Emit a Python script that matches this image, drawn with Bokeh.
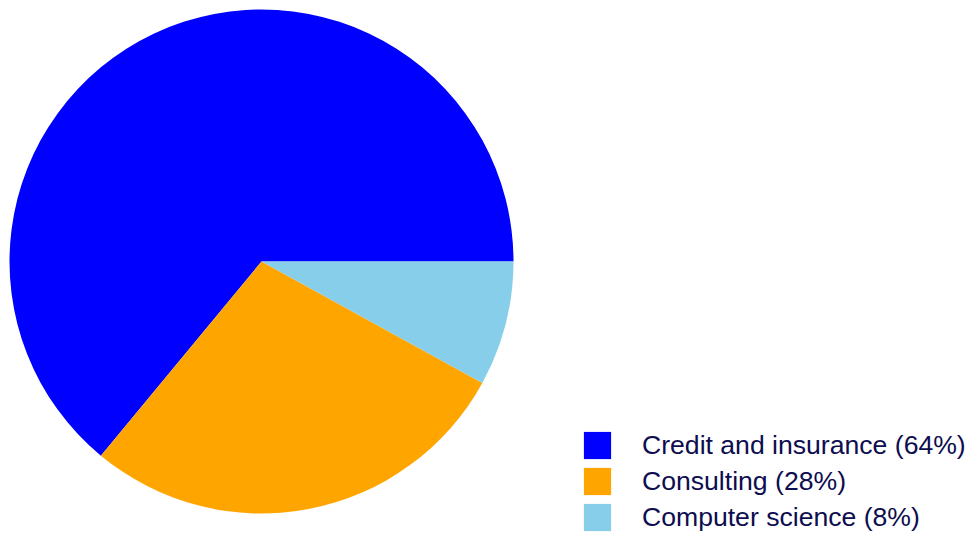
import numpy as np
from bokeh.plotting import figure
from bokeh.models import Range1d, Legend, LegendItem, ColumnDataSource
from bokeh.embed import file_html
from bokeh.resources import INLINE

categories = ["Credit and insurance", "Consulting", "Computer science"]
shares = [64, 28, 8]
colors = ["#0000ff", "#ffa500", "#87ceeb"]

vals = np.array(shares, dtype=float)
ends = np.cumsum(vals) / vals.sum() * 2 * np.pi
starts = np.concatenate([[0.0], ends[:-1]])
labels = [f"{c} ({s}%)" for c, s in zip(categories, shares)]

W, H = 966, 540
p = figure(width=W, height=H, output_backend="svg", toolbar_location=None,
           x_range=Range1d(0, W), y_range=Range1d(0, H),
           min_border=0, outline_line_color=None)
p.axis.visible = False
p.grid.visible = False
p.background_fill_color = "white"

cx, cy, r = 261, H - 261, 252
items = []
for i in range(len(shares)):
    src = ColumnDataSource(dict(x=[cx], y=[cy], s=[starts[i]], e=[ends[i]]))
    w = p.wedge(x="x", y="y", radius=r, start_angle="s", end_angle="e",
                fill_color=colors[i], line_color=None, source=src)
    items.append(LegendItem(label=labels[i], renderers=[w]))

legend = Legend(items=items, location=(580, 6), orientation="vertical",
                glyph_width=34, glyph_height=34, label_standoff=28, spacing=2,
                padding=0, margin=0, border_line_color=None, background_fill_alpha=0,
                label_text_font="Liberation Sans", label_text_font_size="26.6px",
                label_text_color="#0d0d4f", label_height=34)
p.add_layout(legend, "center")

open("out.html", "w").write(file_html(p, INLINE))
